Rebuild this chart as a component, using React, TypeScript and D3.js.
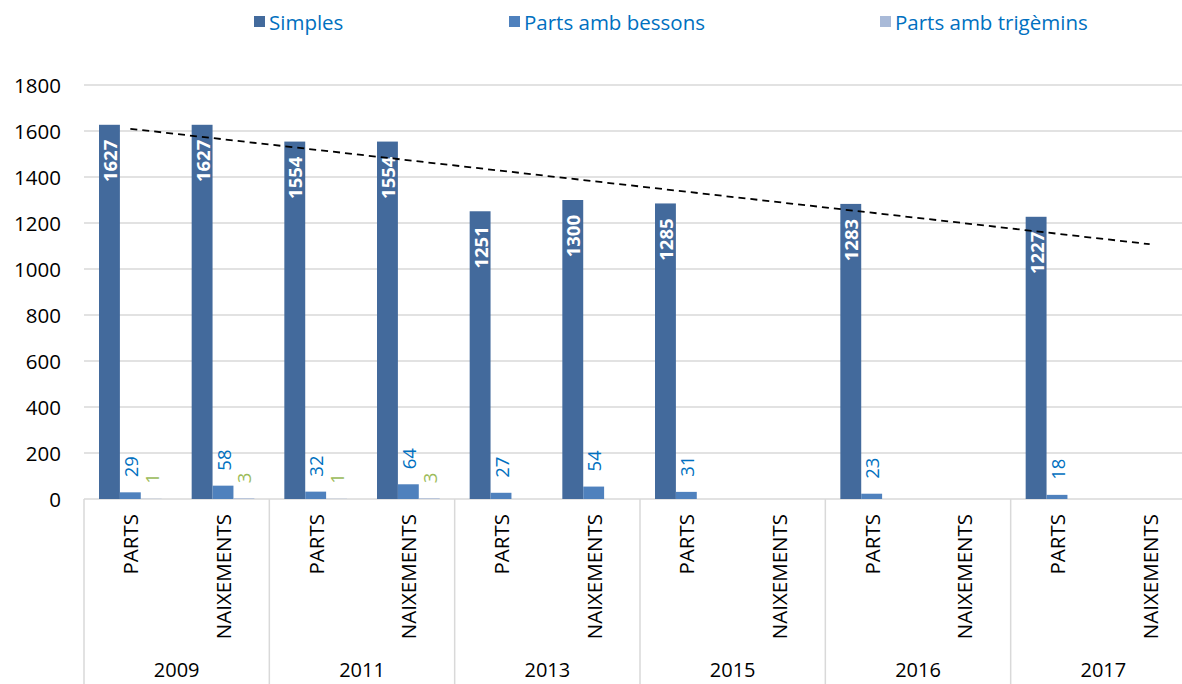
import React from "react";
import * as d3 from "d3";

const years = ["2009", "2011", "2013", "2015", "2016", "2017"];
const kinds = ["PARTS", "NAIXEMENTS"];
const seriesNames = ["Simples", "Parts amb bessons", "Parts amb trigèmins"];
const simples: (number | null)[] = [1627, 1627, 1554, 1554, 1251, 1300, 1285, null, 1283, null, 1227, null];
const bessons: (number | null)[] = [29, 58, 32, 64, 27, 54, 31, null, 23, null, 18, null];
const trigemins: (number | null)[] = [1, 3, 1, 3, null, null, null, null, null, null, null, null];
const yTicks = [0, 200, 400, 600, 800, 1000, 1200, 1400, 1600, 1800];

const colors = ["#436A9C", "#4F81BD", "#A9BAD8"];
const labelColors = ["#FFFFFF", "#0070C0", "#9BBB59"];
const FONT = "'Open Sans', sans-serif";

export default function App() {
  const W = 1182, H = 684;
  const left = 84, right = 1196, top = 85, bottom = 499;
  const cats = years.flatMap((yr) => kinds.map((k) => `${yr}|${k}`));
  const x0 = d3.scaleBand<number>().domain(d3.range(cats.length)).range([left, right]).padding(0);
  const bw = x0.bandwidth();
  const gapHalf = 15;
  const x1 = d3.scaleBand<number>().domain([0, 1, 2]).range([gapHalf, bw - gapHalf]).padding(0);
  const y = d3.scaleLinear().domain([0, 1800]).range([bottom, top]);
  const data = [simples, bessons, trigemins];

  // linear trendline on Simples (blanks skipped)
  const pts = simples.map((v, i) => [i, v] as [number, number | null]).filter((p) => p[1] != null) as [number, number][];
  const mx = d3.mean(pts, (p) => p[0])!;
  const my = d3.mean(pts, (p) => p[1])!;
  const sxy = d3.sum(pts, (p) => (p[0] - mx) * (p[1] - my));
  const sxx = d3.sum(pts, (p) => (p[0] - mx) ** 2);
  const slope = sxy / sxx;
  const icpt = my - slope * mx;
  const cx = (i: number) => x0(i)! + bw / 2;
  const trend = d3.line<number>().x((i) => cx(i)).y((i) => y(icpt + slope * i))([0, cats.length - 1]);

  const yearW = bw * 2;

  return (
    <svg width={W} height={H} style={{ position: "absolute", left: 0, top: 0, background: "#fff" }} fontFamily={FONT}>
      {/* legend */}
      {seriesNames.map((s, i) => {
        const lx = [254, 509, 880][i];
        return (
          <g key={s}>
            <rect x={lx} y={16} width={11} height={11} fill={colors[i]} />
            <text x={lx + 15} y={22} dominantBaseline="central" fontSize={20.5} fill="#0070C0">{s}</text>
          </g>
        );
      })}
      {/* gridlines */}
      {yTicks.map((t) => (
        <g key={t}>
          <line x1={left} x2={right} y1={y(t)} y2={y(t)} stroke="#D9D9D9" strokeWidth={1.5} />
          <text x={61} y={y(t)} textAnchor="end" dominantBaseline="central" fontSize={20.5} fill="#000">{t}</text>
        </g>
      ))}
      {/* category separators */}
      {d3.range(years.length + 1).map((j) => (
        <line key={j} x1={left + j * yearW} x2={left + j * yearW} y1={bottom} y2={H + 5} stroke="#D9D9D9" strokeWidth={1.5} />
      ))}
      {/* bars */}
      {data.map((vals, si) =>
        vals.map((v, i) =>
          v == null ? null : (
            <rect key={`${si}-${i}`} x={x0(i)! + x1(si)!} y={y(v)} width={x1.bandwidth()} height={bottom - y(v)} fill={colors[si]} />
          )
        )
      )}
      {/* labels */}
      {data.map((vals, si) =>
        vals.map((v, i) => {
          if (v == null) return null;
          const lx = x0(i)! + x1(si)! + x1.bandwidth() / 2;
          if (si === 0) {
            const ly = y(v) + 15;
            return (
              <text key={`l${si}-${i}`} transform={`translate(${lx},${ly}) rotate(-90)`} textAnchor="end" dominantBaseline="central"
                fontSize={18.5} fontWeight="bold" fill={labelColors[si]}>{v}</text>
            );
          }
          const ly = y(v) - 15;
          return (
            <text key={`l${si}-${i}`} transform={`translate(${lx},${ly}) rotate(-90)`} textAnchor="start" dominantBaseline="central"
              fontSize={18.5} fill={labelColors[si]}>{v}</text>
          );
        })
      )}
      {/* trendline */}
      <path d={trend!} fill="none" stroke="#000" strokeWidth={1.8} strokeDasharray="7,5" />
      {/* category labels */}
      {cats.map((c, i) => (
        <text key={c} transform={`translate(${cx(i)},${514}) rotate(-90)`} textAnchor="end" dominantBaseline="central" fontSize={20.5} fill="#000">
          {c.split("|")[1]}
        </text>
      ))}
      {years.map((yr, j) => (
        <text key={yr} x={left + j * yearW + yearW / 2} y={677} textAnchor="middle" fontSize={20} fill="#000">{yr}</text>
      ))}
    </svg>
  );
}
